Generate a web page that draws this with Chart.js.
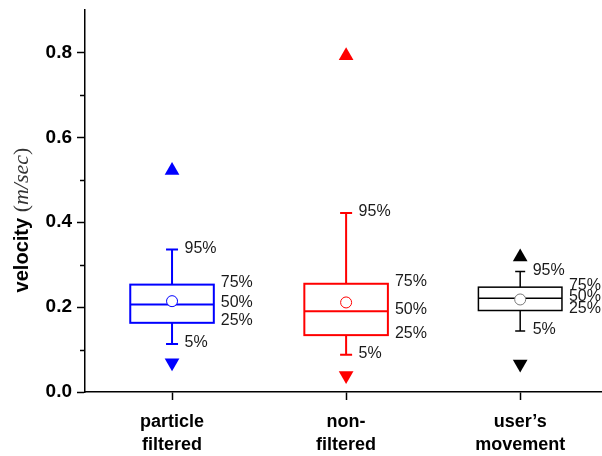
<!DOCTYPE html>
<html>
<head>
<meta charset="utf-8">
<script src="https://cdn.jsdelivr.net/npm/chart.js@4/dist/chart.umd.min.js"></script>
<style>
  body { margin: 0; background: #fff; }
  canvas { display: block; }
</style>
</head>
<body>
<canvas id="boxChart" width="602" height="456"></canvas>
<script>
// values (m/sec)
const categories = ['particle filtered', 'non-filtered', 'user’s movement'];
const tickLabels = [['particle', 'filtered'], ['non-', 'filtered'], ['user’s', 'movement']];
const p5 = [0.113, 0.088, 0.144];
const p25 = [0.163, 0.134, 0.192];
const p50 = [0.206, 0.190, 0.221];
const p75 = [0.253, 0.255, 0.247];
const p95 = [0.336, 0.422, 0.284];
const means = [0.214, 0.211, 0.218];
const maxVals = [0.522, 0.792, 0.318];
const minVals = [0.069, 0.039, 0.066];
const yTicks = [0, 0.2, 0.4, 0.6, 0.8];
const yMinorTicks = [0.1, 0.3, 0.5, 0.7];

const colors = ['#0000ff', '#ff0000', '#000000'];
const meanBorders = ['#0000ff', '#ff0000', '#777777'];
const BOX_HALF = 0.24; // in category units
const CAP_HALF = 6;    // px

const boxPlugin = {
    id: 'boxes',
    beforeDatasetsDraw(chart) {
        const ctx = chart.ctx;
        const x = chart.scales.x;
        const y = chart.scales.y;
        ctx.save();
        categories.forEach((c, i) => {
            const cx = x.getPixelForValue(i + 1);
            const left = x.getPixelForValue(i + 1 - BOX_HALF);
            const right = x.getPixelForValue(i + 1 + BOX_HALF);
            const yq1 = y.getPixelForValue(p25[i]);
            const yq3 = y.getPixelForValue(p75[i]);
            const ymed = y.getPixelForValue(p50[i]);
            const ylo = y.getPixelForValue(p5[i]);
            const yhi = y.getPixelForValue(p95[i]);

            ctx.strokeStyle = colors[i];
            ctx.lineWidth = i === 2 ? 1.5 : 2;
            ctx.strokeRect(left, yq3, right - left, yq1 - yq3);
            ctx.beginPath();
            ctx.moveTo(left, ymed); ctx.lineTo(right, ymed);
            // whiskers
            ctx.moveTo(cx, yq3); ctx.lineTo(cx, yhi);
            ctx.moveTo(cx, yq1); ctx.lineTo(cx, ylo);
            const cap = i === 2 ? CAP_HALF - 1 : CAP_HALF;
            ctx.moveTo(cx - cap, yhi); ctx.lineTo(cx + cap, yhi);
            ctx.moveTo(cx - cap, ylo); ctx.lineTo(cx + cap, ylo);
            ctx.stroke();

            // percentile labels
            ctx.fillStyle = '#1a1a1a';
            ctx.font = '16px "Liberation Sans", Arial, sans-serif';
            ctx.textAlign = 'left';
            ctx.textBaseline = 'middle';
            ctx.fillText('95%', cx + 12.5, yhi - 1);
            ctx.fillText('5%', cx + 12.5, ylo - 1);
            ctx.fillText('75%', right + 7, yq3 - 2);
            ctx.fillText('50%', right + 7, ymed - 2);
            ctx.fillText('25%', right + 7, yq1 - 2);
        });
        ctx.restore();
    },
    afterDraw(chart) {
        const ctx = chart.ctx;
        const y = chart.scales.y;
        const area = chart.chartArea;
        ctx.save();
        // minor ticks on the y axis
        ctx.strokeStyle = '#000';
        ctx.lineWidth = 1.5;
        ctx.beginPath();
        yMinorTicks.forEach(v => {
            const py = Math.round(y.getPixelForValue(v)) + 0.5;
            ctx.moveTo(area.left - 5, py);
            ctx.lineTo(area.left, py);
        });
        ctx.stroke();

        // y title: bold word + italic unit
        const parts = [
            { t: 'velocity ', f: 'bold 20px "Liberation Sans", Arial, sans-serif', c: '#000' },
            { t: '(', f: '22px "Liberation Serif", serif', c: '#333' },
            { t: 'm/sec', f: 'italic 22px "Liberation Serif", serif', c: '#333' },
            { t: ')', f: '22px "Liberation Serif", serif', c: '#333' }
        ];
        let total = 0;
        parts.forEach(p => { ctx.font = p.f; p.w = ctx.measureText(p.t).width; total += p.w; });
        ctx.translate(27.5, 220);
        ctx.rotate(-Math.PI / 2);
        ctx.textBaseline = 'alphabetic';
        ctx.textAlign = 'left';
        let pos = -total / 2;
        parts.forEach(p => {
            ctx.font = p.f;
            ctx.fillStyle = p.c;
            ctx.fillText(p.t, pos, 0);
            pos += p.w;
        });
        ctx.restore();
    }
};

new Chart(document.getElementById('boxChart'), {
    type: 'scatter',
    data: {
        datasets: [
            {
                label: 'max',
                data: maxVals.map((v, i) => ({ x: i + 1, y: v })),
                pointStyle: 'triangle',
                pointRadius: 8.5,
                pointBackgroundColor: colors,
                pointBorderColor: colors,
                pointBorderWidth: 0
            },
            {
                label: 'min',
                data: minVals.map((v, i) => ({ x: i + 1, y: v })),
                pointStyle: 'triangle',
                rotation: 180,
                pointRadius: 8.5,
                pointBackgroundColor: colors,
                pointBorderColor: colors,
                pointBorderWidth: 0
            },
            {
                label: 'mean',
                data: means.map((v, i) => ({ x: i + 1, y: v })),
                pointStyle: 'circle',
                pointRadius: 5.5,
                pointBackgroundColor: '#ffffff',
                pointBorderColor: meanBorders,
                pointBorderWidth: 1
            }
        ]
    },
    options: {
        responsive: false,
        animation: false,
        layout: { autoPadding: false, padding: { top: 10, right: 0, left: 0, bottom: 0 } },
        plugins: {
            legend: { display: false },
            tooltip: { enabled: false }
        },
        scales: {
            x: {
                type: 'linear',
                min: 0.5,
                max: 3.47,
                afterBuildTicks: scale => { scale.ticks = [1, 2, 3].map(v => ({ value: v })); },
                afterFit: scale => {
                    scale.height = 64;
                    scale.paddingLeft = 0;
                    scale.paddingRight = 0;
                },
                grid: { drawOnChartArea: false, tickLength: 8, tickColor: '#000', tickWidth: 1.5 },
                border: { color: '#000', width: 1.5 },
                ticks: {
                    color: '#000',
                    padding: 11,
                    maxRotation: 0,
                    font: { family: '"Liberation Sans", Arial, sans-serif', size: 18, weight: 'bold', lineHeight: 1.25 },
                    callback: value => tickLabels[value - 1]
                }
            },
            y: {
                min: 0,
                max: 0.9,
                afterBuildTicks: scale => { scale.ticks = yTicks.map(v => ({ value: v })); },
                afterFit: scale => {
                    scale.width = 85;
                    scale.paddingTop = 0;
                    scale.paddingBottom = 0;
                },
                grid: { drawOnChartArea: false, tickLength: 8, tickColor: '#000', tickWidth: 1.5 },
                border: { color: '#000', width: 1.5 },
                ticks: {
                    color: '#000',
                    padding: 5,
                    font: { family: '"Liberation Sans", Arial, sans-serif', size: 19, weight: 'bold' },
                    callback: value => value.toFixed(1)
                }
            }
        }
    },
    plugins: [boxPlugin]
});
</script>
</body>
</html>
